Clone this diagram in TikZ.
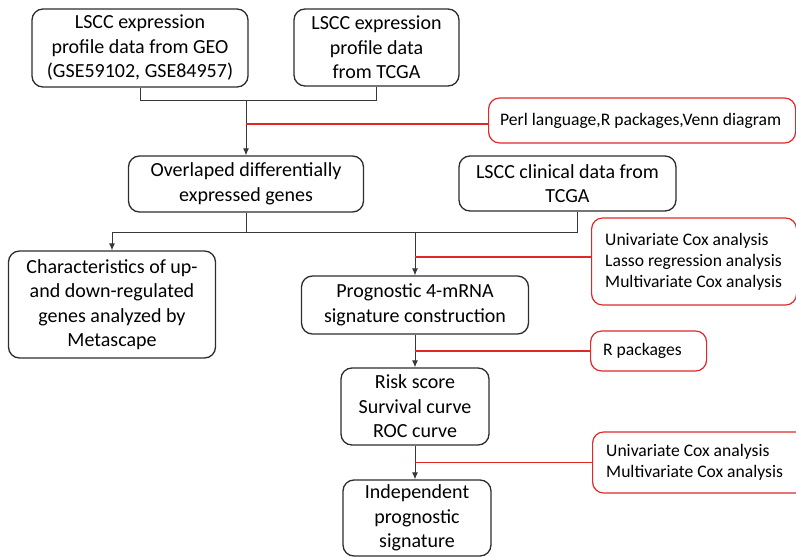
\documentclass[tikz,border=0pt]{standalone}
\usepackage{fontspec}
\setmainfont{Carlito}
\usetikzlibrary{arrows.meta}
\definecolor{boxline}{RGB}{45,45,45}
\definecolor{connline}{RGB}{55,55,55}
\definecolor{redline}{RGB}{225,40,40}
\tikzset{
  bbox/.style={draw=boxline, line width=1.3pt, rounded corners=11pt, align=center, inner sep=0pt,
    font=\fontsize{20}{24.5}\selectfont, text=black},
  rbox/.style={draw=redline, line width=1.2pt, rounded corners=11pt, inner sep=0pt, anchor=west},
  rtext/.style={align=left, inner sep=0pt, anchor=west, font=\fontsize{17.6}{21}\selectfont, text=black},
  conn/.style={draw=connline, line width=1pt},
  arr/.style={conn, -{Latex[length=7pt,width=6pt]}},
  rconn/.style={draw=redline, line width=1.2pt}
}
\begin{document}
\begin{tikzpicture}[x=1pt,y=-1pt]
\useasboundingbox (0,0) rectangle (796,557);
% black boxes
\node[bbox, minimum width=216pt, minimum height=78pt] (geo) at (140,48) {LSCC expression\\profile data from GEO\\(GSE59102, GSE84957)};
\node[bbox, minimum width=165pt, minimum height=77pt] (tcga) at (376.5,47.5) {LSCC expression\\profile data\\from TCGA};
\node[bbox, minimum width=235pt, minimum height=56pt] (ovl) at (246,184) {Overlaped differentially\\expressed genes};
\node[bbox, minimum width=217pt, minimum height=55pt] (clin) at (567.5,183.5) {LSCC clinical data from\\TCGA};
\node[bbox, minimum width=207pt, minimum height=107pt] (char) at (112,304.5) {Characteristics of up-\\and down-regulated\\genes analyzed by\\Metascape};
\node[bbox, minimum width=227pt, minimum height=58pt] (prog) at (415,305) {Prognostic 4-mRNA\\signature construction};
\node[bbox, minimum width=148pt, minimum height=77pt] (risk) at (415,406.5) {Risk score\\Survival curve\\ROC curve};
\node[bbox, minimum width=148pt, minimum height=76pt] (indep) at (417,518) {Independent\\prognostic\\signature};
% red boxes
\node[rbox, minimum width=307pt, minimum height=45pt] (perl) at (488,120.5) {};
\node[rtext] (perlt) at ([xshift=12pt]perl.west) {Perl language,R packages,Venn diagram};
\node[rbox, minimum width=205pt, minimum height=87pt] (cox) at (591,261.5) {};
\node[rtext] (coxt) at ([xshift=14pt]cox.west) {Univariate Cox analysis\\Lasso regression analysis\\Multivariate Cox analysis};
\node[rbox, minimum width=116pt, minimum height=40pt] (rpk) at (590,351) {};
\node[rtext] (rpkt) at ([xshift=13pt]rpk.west) {R packages};
\node[rbox, minimum width=215pt, minimum height=61pt] (cox2) at (592,462.5) {};
\node[rtext] (cox2t) at ([xshift=14pt]cox2.west) {Univariate Cox analysis\\Multivariate Cox analysis};
% junctions
\coordinate (j1) at (ovl.north |- 0,100);
\coordinate (j2) at (ovl.south |- 0,232);
\coordinate (j3) at (prog.north |- 0,232);
\coordinate (cdrop) at ([xshift=10pt]clin.south);
\coordinate (r1) at (j1 |- 0,124);
\coordinate (r2) at (j3 |- 0,257);
% connectors
\draw[conn] (geo.south) |- (j1);
\draw[conn] (tcga.south) |- (j1);
\draw[arr] (j1) -- (ovl.north);
\draw[rconn] (r1) -- (r1 -| perl.west);
\draw[conn] (ovl.south) -- (j2);
\draw[arr] (j2) -| (char.north);
\draw[conn] (cdrop) |- (j2);
\draw[arr] (j3) -- (prog.north);
\draw[rconn] (r2) -- (r2 -| cox.west);
\draw[arr] (prog.south) -- (risk.north);
\draw[rconn] (prog.south |- rpk.west) -- (rpk.west);
\draw[arr] (risk.south) -- (risk.south |- indep.north);
\draw[rconn] (risk.south |- cox2.west) -- (cox2.west);
\end{tikzpicture}
\end{document}
